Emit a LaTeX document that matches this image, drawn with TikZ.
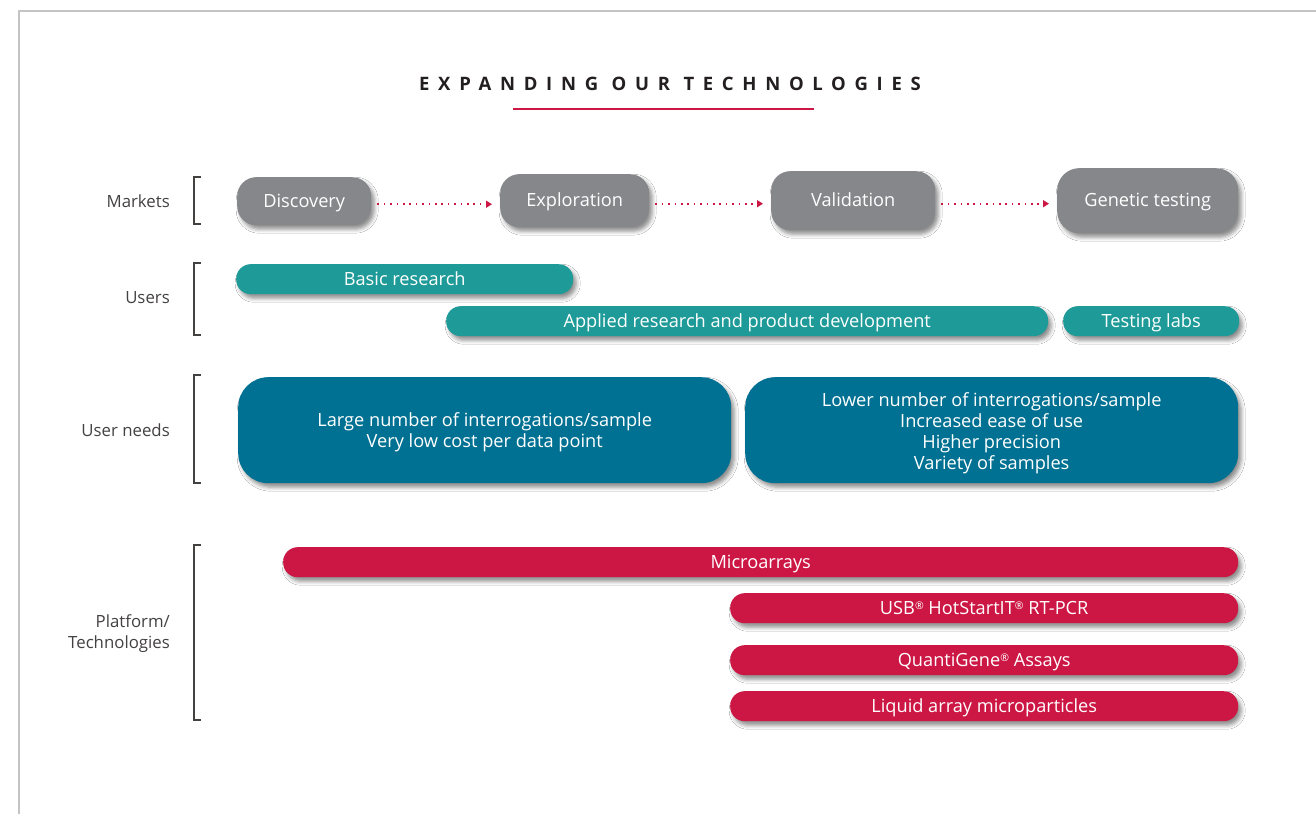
\documentclass[tikz,border=0pt]{standalone}
\usepackage{fontspec}
\setmainfont{Open Sans}
\usetikzlibrary{shadows.blur,arrows.meta}
\definecolor{mgray}{HTML}{86878B}
\definecolor{uteal}{HTML}{1E9A98}
\definecolor{nteal}{HTML}{007192}
\definecolor{pred}{HTML}{CC1644}
\definecolor{frame}{HTML}{C4C4C4}
\definecolor{ink}{HTML}{231F20}
\newcommand{\reg}{{\fontsize{10.5}{10.5}\selectfont\raisebox{5pt}{®}}}
\tikzset{
  box/.style={anchor=north west, inner sep=0pt, text=white,
    font=\fontsize{18.2}{21}\selectfont,
    blur shadow={shadow xshift=3pt, shadow yshift=-4pt, shadow blur radius=4pt, shadow opacity=45}},
  one/.style={box, text height=12.5pt, text depth=0pt},
  mkt/.style={one, fill=mgray, rounded corners=19pt},
  usr/.style={one, fill=uteal, rounded corners=14.5pt},
  need/.style={box, align=center, fill=nteal, rounded corners=30pt},
  plat/.style={one, fill=pred, rounded corners=14.5pt},
  side/.style={anchor=east, inner sep=0pt, align=right, text=ink!85, font=\fontsize{16.8}{21}\selectfont},
  brk/.style={draw=ink!85, line width=1.1pt},
  flow/.style={draw=pred, line width=1.6pt, dash pattern=on 1.6pt off 4.8pt,
    -{Triangle[length=6pt,width=7pt,fill=pred]}, shorten <=6pt, shorten >=8pt},
}
\begin{document}
\begin{tikzpicture}[x=1pt,y=-1pt]
\useasboundingbox (0,0) rectangle (1316,814);
\fill[white] (0,0) rectangle (1316,814);
% frame
\draw[frame, line width=2pt] (19,814) -- (19,11) -- (1316,11);
% title
\node[text=ink, font=\fontsize{18.5}{20}\selectfont\bfseries\addfontfeatures{LetterSpace=47}] (title) at (670,84) {EXPANDING OUR TECHNOLOGIES};
\draw[pred, line width=2.2pt] (513,109) -- (814,109);

% side labels
\node[side] (lmk) at (170,201) {Markets};
\node[side] (lus) at (170,298) {Users};
\node[side] (lun) at (170,430) {User needs};
\node[side] (lpl) at (170,634) {Platform/\\Technologies};

% brackets
\draw[brk] (201,177) -- (194,177) -- (194,224) -- (201,224);
\draw[brk] (201,263) -- (194,263) -- (194,335) -- (201,335);
\draw[brk] (201,375) -- (194,375) -- (194,483) -- (201,483);
\draw[brk] (201,545) -- (194,545) -- (194,720) -- (201,720);

% markets
\node[mkt, minimum width=134pt, minimum height=48pt] (disc) at (237,177) {Discovery};
\node[mkt, minimum width=149pt, minimum height=53pt] (expl) at (500,174) {Exploration};
\node[mkt, minimum width=164pt, minimum height=59pt] (vali) at (771,171) {Validation};
\node[mkt, minimum width=181pt, minimum height=65pt, rounded corners=22pt] (gene) at (1057,168) {Genetic testing};
\draw[flow] ([yshift=-3pt]disc.east) -- ([yshift=-3pt]disc.east -| expl.west);
\draw[flow] ([yshift=-3pt]expl.east) -- ([yshift=-3pt]expl.east -| vali.west);
\draw[flow] ([yshift=-3pt]vali.east) -- ([yshift=-3pt]vali.east -| gene.west);

% users
\node[usr, minimum width=337pt, minimum height=30pt] (basic) at (236,264) {Basic research};
\node[usr, minimum width=602pt, minimum height=30pt] (appl) at (446,306) {Applied research and product development};
\node[usr, minimum width=176pt, minimum height=30pt] (labs) at (1063,306) {Testing labs};

% user needs
\node[need, minimum width=493pt, minimum height=106pt] (need1) at (238,377) {\rule{0pt}{18pt}Large number of interrogations/sample\\Very low cost per data point};
\node[need, minimum width=493pt, minimum height=106pt] (need2) at (745,377) {\rule{0pt}{19pt}Lower number of interrogations/sample\\Increased ease of use\\Higher precision\\Variety of samples};

% platforms
\node[plat, minimum width=955pt, minimum height=30pt] (micro) at (283,547) {Microarrays};
\node[plat, minimum width=508pt, minimum height=30pt] (usb) at (730,593) {USB\reg{} HotStartIT\reg{} RT-PCR};
\node[plat, minimum width=508pt, minimum height=30pt] (quanti) at (730,645) {QuantiGene\reg{} Assays};
\node[plat, minimum width=508pt, minimum height=30pt] (liquid) at (730,691) {Liquid array microparticles};
\end{tikzpicture}
\end{document}
